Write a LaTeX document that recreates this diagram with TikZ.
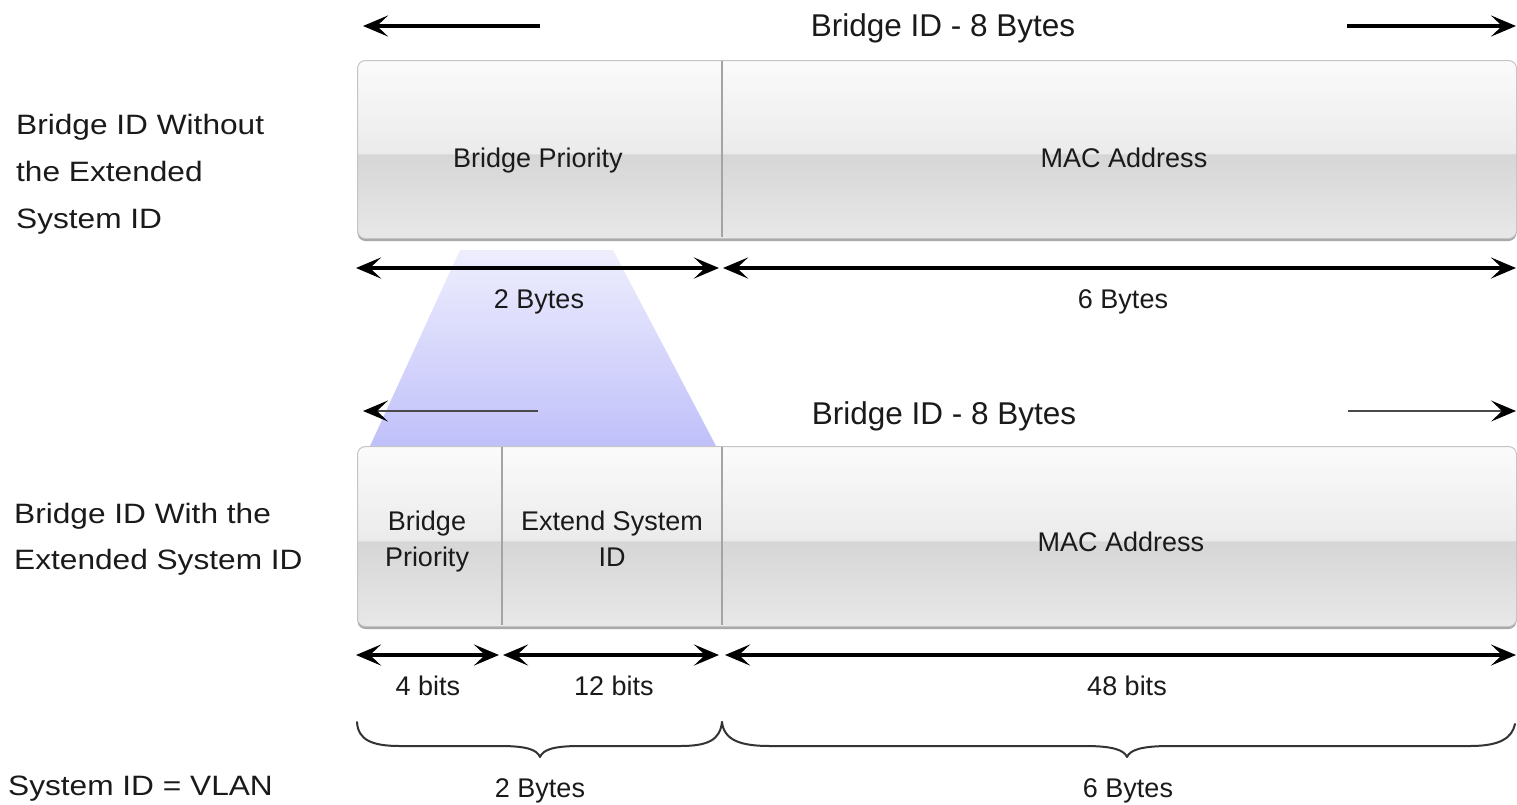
\documentclass[tikz,border=0pt]{standalone}
\usepackage{fontspec}
\setmainfont{Liberation Sans}
\newfontfamily\widefont[FakeStretch=1.13]{Liberation Sans}
\usetikzlibrary{arrows.meta,shadows}
\definecolor{txt}{HTML}{1A1A1A}
\definecolor{bxA}{HTML}{E8E8E8}
\definecolor{bxB}{HTML}{D6D6D6}
\definecolor{bxC}{HTML}{EBEBEB}
\definecolor{bxD}{HTML}{FBFBFB}
\definecolor{boxline}{HTML}{C4C4C4}
\definecolor{divc}{HTML}{A4A4A4}
\definecolor{trapTop}{HTML}{EEEEFE}
\definecolor{trapBot}{HTML}{C0C0FA}
\definecolor{bracec}{HTML}{333333}
\definecolor{thinc}{HTML}{4A4A4A}
\pgfdeclareverticalshading{boxshade}{100bp}{color(0bp)=(bxA); color(25bp)=(bxA); color(48.6bp)=(bxB); color(49bp)=(bxC); color(75bp)=(bxD); color(100bp)=(bxD)}
\begin{document}
\begin{tikzpicture}[x=1pt,y=-1pt,
  >={Stealth[length=25pt,width=21pt,inset=11pt]},
  txtnode/.style={inner sep=0pt, text=txt},
  titlelbl/.style={txtnode, font=\fontsize{31.5}{38}\selectfont},
  sidelbl/.style={txtnode, align=left, anchor=west, font=\widefont\fontsize{28}{46.6}\selectfont},
  cellname/.style={txtnode, align=center, font=\fontsize{27}{36.7}\selectfont},
  dimlbl/.style={txtnode, anchor=base, font=\fontsize{27}{32}\selectfont},
  fieldbox/.style={draw=boxline, line width=1pt, rounded corners=8pt, shade, shading=boxshade,
    inner sep=0pt, anchor=north west, minimum width=1159pt,
    drop shadow={shadow xshift=0pt, shadow yshift=-2.5pt, opacity=0.45, fill=black!75}},
  divider/.style={draw=divc, line width=1.2pt},
  dimarrow/.style={line width=3.5pt, draw=black, <->},
  bigarrow/.style={line width=3.5pt, draw=black, ->},
  thinarrow/.style={line width=2.2pt, draw=thinc, -{Stealth[length=25pt,width=21pt,inset=11pt,color=black]}},
  bracepath/.style={draw=bracec, line width=2pt, line join=round, line cap=round}
]
\useasboundingbox (0,0) rectangle (1517,804);
\fill[white] (0,0) rectangle (1517,804);

% highlight trapezoid
\shade[top color=trapTop, bottom color=trapBot] (460,250) -- (613,250) -- (716,446) -- (370,446) -- cycle;

% ---------- top structure ----------
\node[titlelbl, anchor=base] (title1) at (943,36) {Bridge ID - 8 Bytes};
\coordinate (t1la) at (540,26); \coordinate (t1lb) at (363,26);
\coordinate (t1ra) at (1347,26); \coordinate (t1rb) at (1516,26);
\draw[bigarrow] (t1la) -- (t1lb);
\draw[bigarrow] (t1ra) -- (t1rb);

\node[fieldbox, minimum height=178pt] (box1) at (357,60) {};
\draw[divider] (722,61) -- (722,237);
\node[cellname, anchor=base] (bp1) at (538,167) {Bridge Priority};
\node[cellname, anchor=base] (mac1) at (1124,167) {MAC Address};

\node[sidelbl] (side1) at (16,174.3) {Bridge ID Without\\the Extended\\System ID};

\coordinate (d1a) at (356,268); \coordinate (d1b) at (719,268);
\coordinate (d1c) at (723,268); \coordinate (d1d) at (1516,268);
\draw[dimarrow] (d1a) -- (d1b);
\draw[dimarrow] (d1c) -- (d1d);
\node[dimlbl] (b2) at (539,308) {2 Bytes};
\node[dimlbl] (b6) at (1123,308) {6 Bytes};

% ---------- bottom structure ----------
\node[titlelbl, anchor=base] (title2) at (944,424) {Bridge ID - 8 Bytes};
\coordinate (t2la) at (538,411); \coordinate (t2lb) at (363,411);
\coordinate (t2ra) at (1348,411); \coordinate (t2rb) at (1516,411);
\draw[thinarrow] (t2la) -- (t2lb);
\draw[thinarrow] (t2ra) -- (t2rb);

\node[fieldbox, minimum height=180pt] (box2) at (357,446) {};
\draw[divider] (502,447) -- (502,625);
\draw[divider] (722,447) -- (722,625);
\node[cellname] (bp2) at (427,541.5) {Bridge\\Priority};
\node[cellname] (ext2) at (612,538.6) {Extend System\\ID};
\node[cellname, anchor=base] (mac2) at (1121,551) {MAC Address};

\node[sidelbl] (side2) at (14,539.4) {Bridge ID With the\\Extended System ID};

\coordinate (d2a) at (356,655); \coordinate (d2b) at (499,655);
\coordinate (d2c) at (503,655); \coordinate (d2d) at (719,655);
\coordinate (d2e) at (725,655); \coordinate (d2f) at (1516,655);
\draw[dimarrow] (d2a) -- (d2b);
\draw[dimarrow] (d2c) -- (d2d);
\draw[dimarrow] (d2e) -- (d2f);
\node[dimlbl] (bits4) at (428,695) {4 bits};
\node[dimlbl] (bits12) at (614,695) {12 bits};
\node[dimlbl] (bits48) at (1127,695) {48 bits};

% braces
\coordinate (bl1) at (357,722); \coordinate (blt) at (540,757); \coordinate (bl2) at (722,722);
\coordinate (br1) at (722,722); \coordinate (brt) at (1127,757); \coordinate (br2) at (1515,724);
\draw[bracepath] (bl1) .. controls (358,740) and (372,746) .. (400,746) -- (500,746)
  .. controls (528,746) and (537,750) .. (blt)
  .. controls (543,750) and (552,746) .. (580,746) -- (680,746)
  .. controls (708,746) and (720,740) .. (bl2);
\draw[bracepath] (br1) .. controls (724,740) and (740,746) .. (770,746) -- (1085,746)
  .. controls (1113,746) and (1124,750) .. (brt)
  .. controls (1130,750) and (1141,746) .. (1170,746) -- (1470,746)
  .. controls (1500,746) and (1512,738) .. (br2);
\node[dimlbl] (by2) at (540,797) {2 Bytes};
\node[dimlbl] (by6) at (1128,797) {6 Bytes};

\node[sidelbl, anchor=base west] (vlan) at (8,795) {System ID = VLAN};
\end{tikzpicture}
\end{document}
